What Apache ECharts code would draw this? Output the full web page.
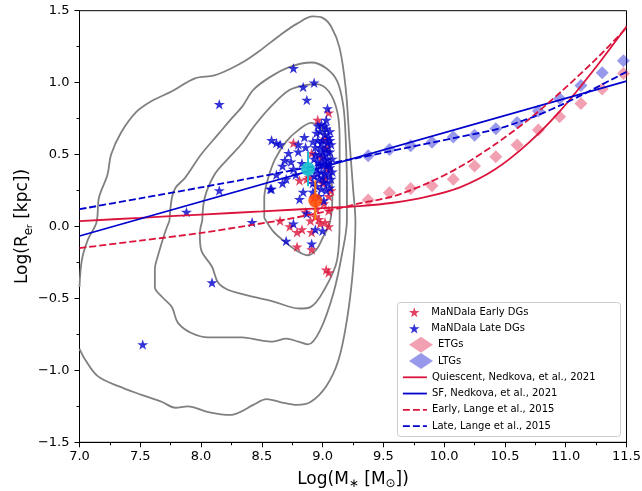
<!DOCTYPE html>
<html><head><meta charset="utf-8">
<script src="https://cdn.jsdelivr.net/npm/echarts@6/dist/echarts.min.js"></script>
<style>html,body{margin:0;padding:0;background:#fff}#c{width:642px;height:491px}</style>
</head><body><div id="c"></div>
<script>
// ---------- data ----------
const xTickLabels = ['7.0','7.5','8.0','8.5','9.0','9.5','10.0','10.5','11.0','11.5'];
const yTickLabels = ['\u22121.5','\u22121.0','\u22120.5','0.0','0.5','1.0','1.5'];

const earlyDG = [[9.05,0.79],[8.96,0.74],[9.02,0.61],[8.76,0.58],[8.91,0.51],[9.02,0.33],[9.05,0.21],[8.87,0.33],[8.81,0.32],[9.00,0.30],[8.94,0.07],[9.02,0.03],[9.05,0.00],[8.65,0.04],[8.73,0.00],[8.79,-0.04],[8.79,-0.14],[8.91,-0.16],[9.03,-0.30],[9.05,-0.32],[8.90,0.04],[8.98,0.02],[8.83,-0.02],[8.91,-0.04],[9.05,0.11],[8.97,0.05],[9.01,0.16],[8.95,0.12],[9.04,0.40],[8.99,0.48],[8.93,0.20],[8.86,0.10],[9.07,0.25],[8.89,0.34],[9.03,0.55]];

const lateDG = [[7.52,-0.82],[7.88,0.10],[8.09,-0.39],[8.15,0.85],[8.15,0.25],[8.42,0.03],[8.57,0.26],[8.76,1.10],[8.84,0.97],[8.93,1.00],[8.87,0.88],[9.04,0.82],[9.03,0.74],[9.02,0.70],
[8.58,0.60],[8.62,0.58],[8.65,0.57],[8.72,0.51],[8.80,0.57],[8.85,0.62],[8.69,0.46],[8.67,0.42],[8.62,0.36],[8.70,0.33],[8.67,0.30],[8.58,0.26],[8.76,0.40],[8.80,0.52],[8.74,0.45],[8.78,0.36],[8.83,0.44],[8.86,0.55],[8.92,0.59],
[8.81,0.19],[8.87,0.09],[8.76,0.02],[8.94,-0.02],[9.00,-0.03],[8.70,-0.10],[8.91,-0.12],[8.84,0.24],
[8.95,0.65],[8.98,0.66],[9.02,0.64],[9.05,0.62],[8.96,0.60],[9.00,0.60],[9.04,0.58],[9.07,0.57],[8.94,0.55],[8.98,0.55],[9.02,0.54],[9.06,0.52],[8.97,0.50],[9.01,0.49],[9.04,0.47],[9.08,0.47],[8.93,0.47],[8.96,0.45],[9.00,0.44],[9.03,0.42],[9.06,0.41],[8.95,0.40],[8.99,0.38],[9.02,0.37],[9.05,0.36],[9.08,0.38],[8.93,0.35],[8.97,0.33],[9.01,0.31],[9.04,0.30],[8.95,0.28],[8.99,0.26],[9.03,0.25],[9.06,0.27],[8.92,0.24],[8.97,0.21],[9.01,0.18],[9.05,0.43],[9.07,0.33],[9.00,0.52],[8.98,0.43],[9.02,0.46],[8.99,0.58],[9.04,0.52],[8.96,0.37],[9.00,0.34],[8.92,0.30],[9.06,0.60],[8.94,0.50],[9.03,0.68],[9.06,0.66],[8.99,0.71],[8.96,0.70]];

const etgMass = [9.375,9.55,9.725,9.9,10.075,10.25,10.425,10.6,10.775,10.95,11.125,11.3,11.475];
const etgR    = [0.184,0.235,0.265,0.283,0.328,0.42,0.485,0.566,0.67,0.763,0.855,0.955,1.064];
const ltgMass = [9.375,9.55,9.725,9.9,10.075,10.25,10.425,10.6,10.775,10.95,11.125,11.3,11.475];
const ltgR    = [0.492,0.536,0.561,0.585,0.622,0.635,0.679,0.723,0.802,0.89,0.98,1.068,1.152];

const quiescentNedkova = [[7.0,0.038],[7.5,0.06],[8.0,0.083],[8.5,0.105],[9.0,0.128],[9.3,0.142],[9.58,0.165],[9.86,0.207],[10.13,0.272],[10.41,0.392],[10.69,0.578],[10.96,0.809],[11.24,1.098],[11.5,1.39]];
const sfNedkova = [[7.0,-0.066],[11.5,1.01]];
const earlyLange = [[7.0,-0.15],[7.5,-0.098],[8.0,-0.045],[8.36,0.003],[8.7,0.05],[9.0,0.10],[9.3,0.16],[9.58,0.21],[9.86,0.30],[10.13,0.415],[10.41,0.566],[10.69,0.74],[10.96,0.936],[11.24,1.156],[11.5,1.38]];
const lateLange = [[7.0,0.12],[7.5,0.196],[8.0,0.272],[8.5,0.35],[9.0,0.43],[9.3,0.478],[9.72,0.552],[10.08,0.615],[10.41,0.672],[10.58,0.716],[10.77,0.774],[10.96,0.844],[11.13,0.913],[11.29,0.983],[11.5,1.075]];

const cyanPoint = [[8.88,0.40]];
const cyanErr = [[8.88,0.28],[8.88,0.52]];
const orangePoint = [[8.94,0.18]];
const orangeErr = [[8.94,0.045],[8.94,0.32]];

const contourA = [[7.0,-0.42],[7.02,-0.23],[7.07,-0.09],[7.14,0.03],[7.16,0.20],[7.23,0.36],[7.26,0.50],[7.34,0.65],[7.46,0.79],[7.59,0.87],[7.76,0.94],[7.95,1.03],[8.11,1.05],[8.25,1.10],[8.36,1.15],[8.48,1.22],[8.65,1.33],[8.79,1.41],[8.92,1.46],[9.0,1.45],[9.07,1.39],[9.14,1.24],[9.19,0.96],[9.22,0.61],[9.25,0.27],[9.27,0.03],[9.25,-0.30],[9.20,-0.65],[9.13,-0.93],[9.03,-1.11],[8.90,-1.22],[8.79,-1.24],[8.65,-1.22],[8.54,-1.20],[8.43,-1.24],[8.32,-1.29],[8.24,-1.31],[8.06,-1.29],[7.89,-1.25],[7.79,-1.26],[7.68,-1.22],[7.51,-1.17],[7.32,-1.11],[7.15,-1.04],[7.05,-0.93],[7.0,-0.85]];
const contourB = [[7.74,0.04],[7.76,0.20],[7.79,0.27],[7.87,0.34],[8.0,0.50],[8.14,0.64],[8.25,0.75],[8.34,0.835],[8.43,0.95],[8.57,1.04],[8.73,1.11],[8.91,1.14],[9.03,1.10],[9.12,1.01],[9.17,0.84],[9.19,0.61],[9.20,0.27],[9.20,0.045],[9.16,-0.19],[9.09,-0.46],[8.98,-0.72],[8.88,-0.82],[8.80,-0.80],[8.70,-0.78],[8.59,-0.80],[8.48,-0.79],[8.34,-0.77],[8.25,-0.77],[8.06,-0.77],[7.92,-0.74],[7.81,-0.67],[7.76,-0.56],[7.68,-0.49],[7.62,-0.42],[7.62,-0.30],[7.65,-0.19],[7.70,-0.05],[7.74,0.04]];
const contourC = [[8.01,0.04],[8.03,0.20],[8.11,0.36],[8.22,0.47],[8.34,0.58],[8.43,0.69],[8.57,0.83],[8.73,0.95],[8.87,0.985],[8.95,0.99],[9.05,0.94],[9.12,0.80],[9.14,0.61],[9.14,0.27],[9.14,0.045],[9.12,-0.23],[9.0,-0.46],[8.90,-0.56],[8.81,-0.57],[8.59,-0.52],[8.43,-0.49],[8.34,-0.47],[8.22,-0.44],[8.14,-0.39],[8.09,-0.28],[8.0,-0.16],[7.99,-0.05],[8.01,0.04]];
const contourD = [[8.52,0.06],[8.52,0.20],[8.55,0.33],[8.61,0.47],[8.70,0.59],[8.80,0.67],[8.91,0.72],[8.99,0.68],[9.05,0.57],[9.07,0.38],[9.08,0.20],[9.06,0.03],[9.0,-0.08],[8.95,-0.16],[8.88,-0.20],[8.79,-0.17],[8.68,-0.10],[8.59,-0.03],[8.52,0.06]];

// ---------- chart ----------
const FONT = 'DejaVu Sans';
const CRIMSON = '#DC143C', BLUE = '#0000CD';
const STAR = 'path://M0,-1L0.2245,-0.309L0.951,-0.309L0.363,0.118L0.588,0.809L0,0.382L-0.588,0.809L-0.363,0.118L-0.951,-0.309L-0.2245,-0.309Z';
const zip = (a, b) => a.map((v, i) => [v, b[i]]);

const contourSeries = [contourA, contourB, contourC, contourD].map(d => ({
  type: 'line', data: d, symbol: 'none', smooth: 0.35, silent: true, z: 1,
  lineStyle: { color: '#808080', width: 1.8 }
}));
const lineSeries = (name, data, color, dashed) => ({
  type: 'line', name, data, symbol: 'none', smooth: 0.3, z: 4,
  lineStyle: { color, width: 1.8, type: dashed ? [7, 3] : 'solid' },
  itemStyle: { color }
});

const legendNames = ['MaNDala Early DGs','MaNDala Late DGs','ETGs','LTGs','Quiescent, Nedkova, et al., 2021','SF, Nedkova, et al., 2021','Early, Lange et al., 2015','Late, Lange et al., 2015'];
const iconH = [10, 10, 16, 16, 12, 12, 12, 12];
const legends = legendNames.map((n, i) => {
  const c = 312.3 + 16.25 * i;
  const h = Math.max(iconH[i], 12);
  const isLine = i >= 4;
  return {
    data: [n], left: isLine ? 402 : 409, top: c - h / 2, padding: 0, itemWidth: 24, itemHeight: iconH[i],
    selectedMode: false, orient: 'horizontal', z: 20,
    itemStyle: isLine ? { opacity: 0, borderWidth: 0 } : {},
    lineStyle: isLine ? { width: 1.8 } : {},
    textStyle: { fontFamily: FONT, fontSize: 10, color: '#000', lineHeight: 12 }
  };
});

const chart = echarts.init(document.getElementById('c'), null, { renderer: 'canvas' });
chart.setOption({
  animation: false,
  backgroundColor: '#fff',
  grid: { left: 79.5, right: 15.5, top: 10.7, bottom: 48.7, show: true, borderColor: '#000', borderWidth: 1,
    backgroundColor: 'transparent', outerBoundsMode: 'none', containLabel: false },
  xAxis: {
    type: 'value', min: 7, max: 11.5, interval: 0.5,
    axisLine: { show: true, onZero: false, lineStyle: { color: '#000', width: 1 } },
    axisTick: { show: true, length: 5, lineStyle: { color: '#000' } },
    minorTick: { show: true, splitNumber: 2, length: 3, lineStyle: { color: '#000' } },
    splitLine: { show: false },
    axisLabel: { margin: 8, fontFamily: FONT, fontSize: 13, color: '#000',
      formatter: v => xTickLabels[Math.round((v - 7) / 0.5)] },
    name: '{n|Log(M}{s|\u2217}{n| [M}{s|\u2299}{n|])}', nameLocation: 'middle', nameGap: 26,
    nameTextStyle: { rich: {
      n: { fontFamily: FONT, fontSize: 17, color: '#000', lineHeight: 22, verticalAlign: 'middle' },
      s: { fontFamily: FONT, fontSize: 12, color: '#000', lineHeight: 14, verticalAlign: 'bottom' }
    } }
  },
  yAxis: {
    type: 'value', min: -1.5, max: 1.5, interval: 0.5,
    axisLine: { show: true, onZero: false, lineStyle: { color: '#000', width: 1 } },
    axisTick: { show: true, length: 5, lineStyle: { color: '#000' } },
    minorTick: { show: true, splitNumber: 2, length: 3, lineStyle: { color: '#000' } },
    splitLine: { show: false },
    axisLabel: { margin: 10, fontFamily: FONT, fontSize: 13, color: '#000',
      formatter: v => yTickLabels[Math.round((v + 1.5) / 0.5)] },
    name: '{n|Log(R}{s|e}{ss|r}{n| [kpc])}', nameLocation: 'middle', nameGap: 45, nameMoveOverlap: false,
    nameTextStyle: { rich: {
      n: { fontFamily: FONT, fontSize: 17, color: '#000', lineHeight: 24, verticalAlign: 'middle' },
      s: { fontFamily: FONT, fontSize: 12, color: '#000', lineHeight: 14, verticalAlign: 'bottom' },
      ss: { fontFamily: FONT, fontSize: 9, color: '#000', lineHeight: 9, verticalAlign: 'bottom' }
    } }
  },
  legend: legends,
  graphic: [{
    type: 'rect', shape: { x: 397.5, y: 302.5, width: 223, height: 134, r: 3 }, z: 5,
    style: { fill: 'rgba(255,255,255,0.8)', stroke: '#cccccc', lineWidth: 1 }
  }],
  series: [
    ...contourSeries,
    { type: 'scatter', name: 'ETGs', data: zip(etgMass, etgR), symbol: 'diamond', symbolSize: 13, z: 2,
      itemStyle: { color: CRIMSON, opacity: 0.4 } },
    { type: 'scatter', name: 'LTGs', data: zip(ltgMass, ltgR), symbol: 'diamond', symbolSize: 13, z: 2,
      itemStyle: { color: BLUE, opacity: 0.4 } },
    lineSeries('Quiescent, Nedkova, et al., 2021', quiescentNedkova, CRIMSON, false),
    lineSeries('SF, Nedkova, et al., 2021', sfNedkova, BLUE, false),
    lineSeries('Early, Lange et al., 2015', earlyLange, CRIMSON, true),
    lineSeries('Late, Lange et al., 2015', lateLange, BLUE, true),
    { type: 'scatter', name: 'MaNDala Early DGs', data: earlyDG, symbol: STAR, symbolSize: [11, 10.5], z: 3,
      itemStyle: { color: CRIMSON, opacity: 0.8 } },
    { type: 'scatter', name: 'MaNDala Late DGs', data: lateDG, symbol: STAR, symbolSize: [11, 10.5], z: 3,
      itemStyle: { color: BLUE, opacity: 0.8 } },
    { type: 'line', data: cyanErr, symbol: 'none', z: 6, silent: true, lineStyle: { color: '#17becf', width: 2 } },
    { type: 'line', data: orangeErr, symbol: 'none', z: 6, silent: true, lineStyle: { color: '#ff7f0e', width: 2 } },
    { type: 'scatter', data: cyanPoint, symbol: 'circle', symbolSize: 14, z: 7, itemStyle: { color: '#17becf', opacity: 0.9 } },
    { type: 'scatter', data: orangePoint, symbol: 'circle', symbolSize: 14, z: 7, itemStyle: { color: '#ff4500', opacity: 0.85 } }
  ]
});
</script></body></html>
